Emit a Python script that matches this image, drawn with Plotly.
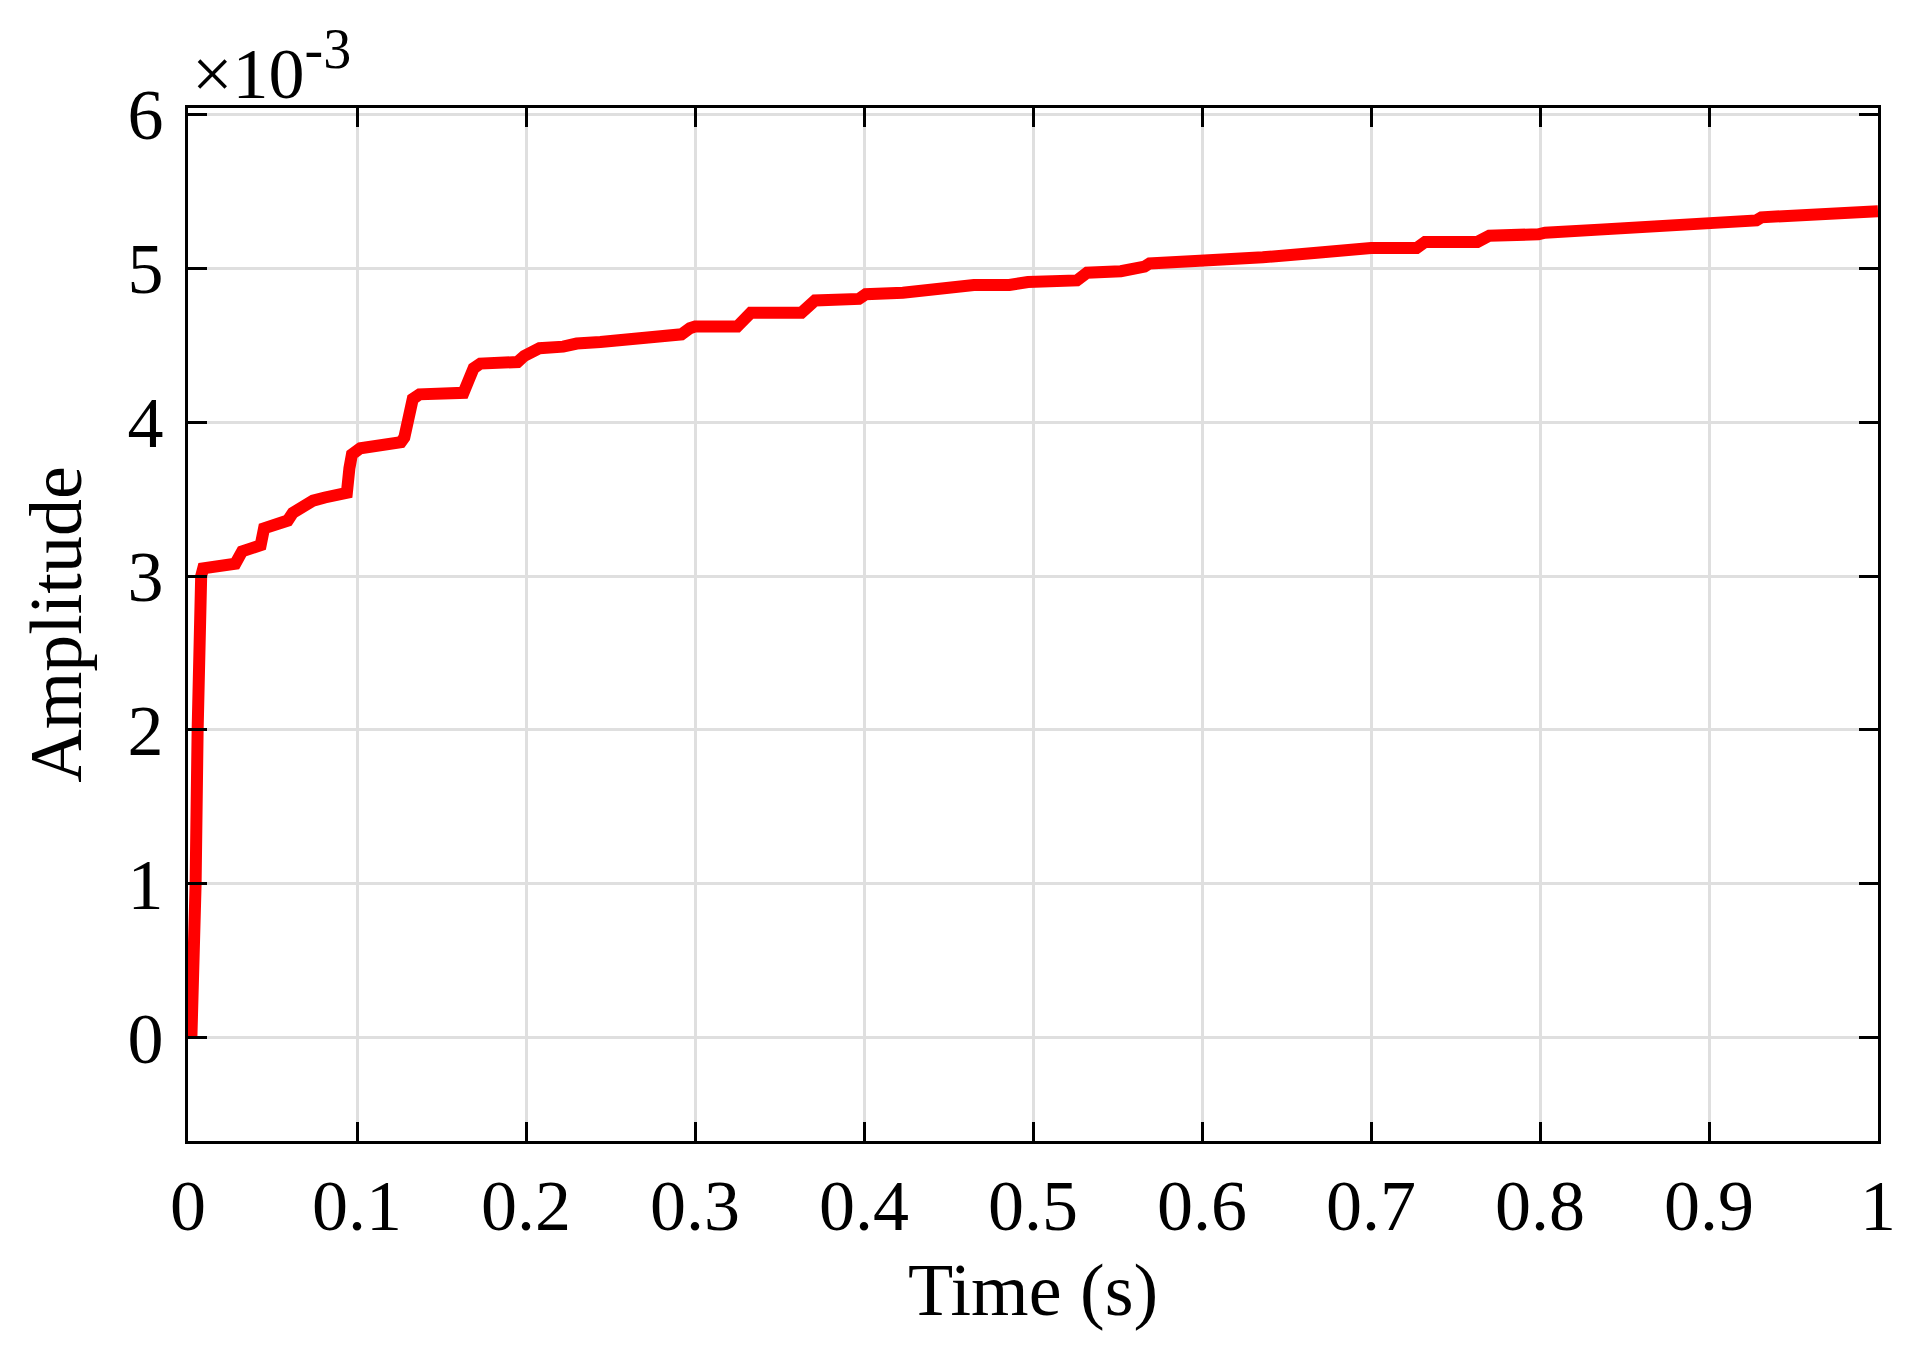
import plotly.graph_objects as go

# step response, amplitude in units of 1e-3
time = [0.002, 0.0035, 0.0045, 0.0057, 0.0068, 0.0078, 0.009, 0.015, 0.021, 0.028,
        0.032, 0.036, 0.043, 0.045, 0.052, 0.059, 0.062, 0.068, 0.074, 0.081,
        0.088, 0.094, 0.0955, 0.097, 0.102, 0.114, 0.126, 0.128, 0.131, 0.133,
        0.137, 0.150, 0.163, 0.166, 0.169, 0.173, 0.185, 0.195, 0.199, 0.203,
        0.208, 0.222, 0.230, 0.244, 0.253, 0.270, 0.292, 0.297, 0.300, 0.325,
        0.329, 0.333, 0.363, 0.367, 0.371, 0.397, 0.401, 0.423, 0.444, 0.465,
        0.486, 0.497, 0.526, 0.529, 0.532, 0.552, 0.564, 0.566, 0.569, 0.598,
        0.602, 0.636, 0.668, 0.700, 0.727, 0.729, 0.732, 0.763, 0.766, 0.770,
        0.799, 0.803, 0.835, 0.865, 0.895, 0.926, 0.928, 0.931, 0.962, 0.964,
        0.967, 1.0]
amplitude = [0.0, 0.5, 1.0, 2.0, 2.85, 3.0, 3.05, 3.06, 3.07, 3.08,
             3.16, 3.18, 3.20, 3.31, 3.33, 3.36, 3.41, 3.45, 3.49, 3.51,
             3.52, 3.54, 3.70, 3.79, 3.83, 3.85, 3.87, 3.90, 4.10, 4.15,
             4.18, 4.18, 4.19, 4.27, 4.35, 4.38, 4.38, 4.39, 4.43, 4.46,
             4.48, 4.49, 4.51, 4.52, 4.53, 4.56, 4.57, 4.61, 4.62, 4.62,
             4.67, 4.71, 4.71, 4.76, 4.79, 4.80, 4.83, 4.84, 4.86, 4.89,
             4.89, 4.91, 4.92, 4.95, 4.97, 4.98, 4.99, 5.01, 5.03, 5.04,
             5.06, 5.07, 5.10, 5.13, 5.13, 5.15, 5.17, 5.17, 5.19, 5.21,
             5.22, 5.23, 5.25, 5.27, 5.29, 5.30, 5.31, 5.33, 5.34, 5.35,
             5.36, 5.37]

x_ticks = [0, 0.1, 0.2, 0.3, 0.4, 0.5, 0.6, 0.7, 0.8, 0.9, 1]
y_ticks = [0, 1, 2, 3, 4, 5, 6]

font = "Liberation Serif"

fig = go.Figure()
fig.add_trace(go.Scatter(x=time, y=amplitude, mode="lines",
                         line=dict(color="#ff0000", width=12), showlegend=False))

axis_style = dict(showline=True, linecolor="black", linewidth=3, mirror="ticks",
                  ticks="inside", ticklen=19, tickwidth=3, tickcolor="black",
                  showgrid=True, gridcolor="#dfdfdf", gridwidth=2.5,
                  zeroline=False, tickfont=dict(family=font, size=72, color="black"))

fig.update_xaxes(range=[0, 1], tickvals=x_ticks, ticklabelstandoff=0,
                 title=dict(text="Time (s)", font=dict(family=font, size=74, color="black"),
                            standoff=18),
                 **axis_style)
fig.update_yaxes(range=[-0.67, 6.04], tickvals=y_ticks, ticklabelstandoff=7,
                 title=dict(text="Amplitude", font=dict(family=font, size=74, color="black"),
                            standoff=22),
                 **axis_style)

fig.add_annotation(text="×10<sup><span style='font-size:56px'>-3</span></sup>",
                   xref="paper", yref="paper", x=0, y=1,
                   xanchor="left", yanchor="bottom", xshift=2, yshift=-8, showarrow=False,
                   font=dict(family=font, size=72, color="black"))

# page body has an 8px margin, so the margins are shifted by that much
fig.update_layout(width=1924, height=1357, plot_bgcolor="white", paper_bgcolor="white",
                  margin=dict(l=180, r=54, t=100, b=224))

fig.write_html("out.html")
